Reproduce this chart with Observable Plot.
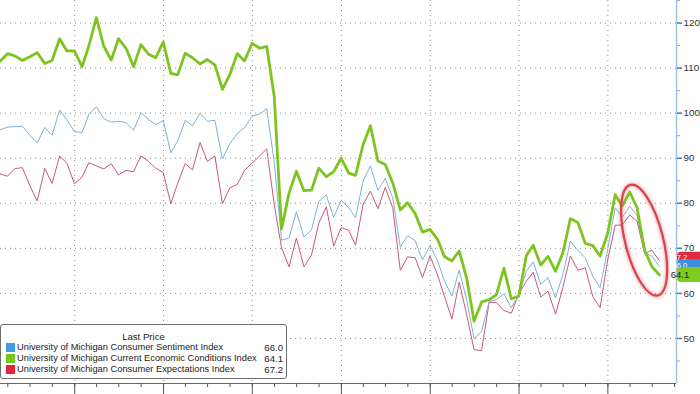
<!DOCTYPE html>
<html><head><meta charset="utf-8">
<script src="https://cdn.jsdelivr.net/npm/d3@7"></script>
<script src="https://cdn.jsdelivr.net/npm/@observablehq/plot@0.6"></script>
<style>
html,body{margin:0;padding:0;background:#fff;}
#wrap{position:relative;width:700px;height:394px;overflow:hidden;}
#legend{position:absolute;left:0;top:324px;width:287px;height:55px;box-sizing:border-box;border:1px solid #6e6e6e;border-radius:3px;background:#fff;font-family:"Liberation Sans",Arial,sans-serif;font-size:9.3px;color:#222;padding-top:5.5px;}
#legend .title{height:11px;line-height:11px;text-align:center;font-size:9.6px;}
#legend .row{height:11px;line-height:11px;display:flex;align-items:center;white-space:nowrap;padding-left:5px;padding-right:3px;}
#legend .sw{width:9px;height:9px;margin-right:2px;flex:none;}
#legend .nm{flex:1;}
#legend .val{margin-left:4px;font-size:9.6px;}
</style></head>
<body>
<div id="wrap"></div>
<script>
// ---- data (monthly, Jan 2017 – Jul 2024) ----
const startYear = 2017;
const sentiment = [
98.5,96.3,96.9,97.0,97.1,95.1,93.4,96.8,95.1,100.7,98.5,95.9,
95.7,99.7,101.4,98.8,98.0,98.2,97.9,96.2,100.1,98.6,97.5,98.3,
91.2,93.8,98.4,97.2,100.0,98.2,98.4,89.8,93.2,95.5,96.8,99.3,
99.8,101.0,89.1,71.8,72.3,78.1,72.5,74.1,80.4,81.8,76.9,80.7,
79.0,76.8,84.9,88.3,82.9,85.5,81.2,70.3,72.8,71.7,67.4,70.6,
67.2,62.8,59.4,65.2,58.4,50.0,51.5,58.2,58.6,59.9,56.8,59.7,
64.9,67.0,62.0,63.5,59.0,64.2,71.6,69.5,67.9,63.8,61.3,69.7,
79.0,76.9,79.4,77.2,69.1,68.2,66.0];
const current = [
111.3,111.5,113.2,112.7,111.7,112.5,113.4,111.0,111.7,116.5,113.8,113.8,
110.3,114.9,121.2,114.9,111.8,116.5,114.4,110.3,115.2,113.1,112.3,115.8,
108.8,108.5,113.3,112.3,110.9,111.9,110.7,105.3,108.5,113.2,111.6,115.5,
114.4,114.8,103.7,74.3,82.3,87.1,82.8,82.9,87.8,85.9,87.0,90.0,
86.7,86.2,93.0,97.2,89.4,88.6,84.5,78.5,80.1,77.7,73.6,74.2,
72.0,68.2,67.2,69.4,63.3,53.8,58.1,58.6,59.7,65.6,58.8,59.4,
68.4,70.7,66.3,68.2,64.9,69.0,76.6,75.7,71.1,70.6,68.3,73.3,
81.9,79.4,82.5,79.0,69.6,65.9,64.1];
const expectations = [
90.1,86.5,86.0,87.7,87.9,84.0,80.5,87.7,84.4,90.5,88.9,84.3,
85.8,89.0,88.3,87.6,88.8,86.3,87.3,87.0,90.5,89.3,87.8,86.8,
79.9,84.4,88.8,87.4,93.5,89.3,90.5,79.9,83.4,84.2,87.3,88.9,
90.5,92.1,79.7,70.1,65.9,72.3,65.9,68.5,75.6,79.2,70.5,74.6,
74.0,70.7,79.7,82.7,78.8,83.5,79.0,65.1,68.1,67.9,63.5,68.3,
64.1,59.4,54.3,62.5,55.2,47.5,47.3,58.0,58.0,56.2,55.6,59.9,
62.7,64.7,59.2,60.5,55.4,61.3,68.3,65.1,65.7,59.3,56.8,67.4,
75.1,75.2,77.4,76.0,68.8,69.6,67.2];
const seriesNames = [
  "University of Michigan Consumer Sentiment Index",
  "University of Michigan Current Economic Conditions Index",
  "University of Michigan Consumer Expectations Index"];
const lastPrice = [66.0, 64.1, 67.2];
const yTicks = [50,60,70,80,90,100,110,120];
const yMinor = [45,55,65,75,85,95,105,115,125];
const annotationMonth = "2024-05";
const annotationValue = 71.7;

// ---- styles ----
const lineColors = ["#7fb0d6", "#7dc421", "#c9587a"];
const swatchColors = ["#3f9be6", "#72c81c", "#e3223d"];
const badgeColors = ["#3f8fe0", "#7ccb1e", "#e02a40"];
const badgeText = ["#fff", "#222", "#fff"];

const dates = sentiment.map((_, i) => new Date(Date.UTC(startYear, i + 1, 0)));
const rows = dates.map((d, i) => ({date: d, s: sentiment[i], c: current[i], e: expectations[i]}));

const x0 = new Date(Date.UTC(2017, 2, 2));
const x1 = new Date(Date.UTC(2024, 9, 9));
const years = d3.utcYear.range(x0, x1);
const quarters = d3.utcMonth.every(3).range(x0, x1);

const dotted = {stroke: "#8a8a8a", strokeWidth: 1, strokeDasharray: "1,4"};
const fontFamily = "'Liberation Sans', Arial, sans-serif";

const plot = Plot.plot({
  width: 700, height: 394,
  marginLeft: 0, marginRight: 24, marginTop: 0, marginBottom: 11,
  style: {fontFamily, background: "#fff"},
  x: {type: "utc", domain: [x0, x1], axis: null},
  y: {domain: [40, 125], axis: null},
  marks: [
    Plot.ruleY(yTicks, dotted),
    Plot.ruleX(years, dotted),
    Plot.ruleX([x1], {stroke: "#a9c3d8", strokeWidth: 1.5}),
    Plot.ruleY([40], {stroke: "#6a6a6a", strokeWidth: 1}),
    Plot.axisX(quarters, {anchor: "bottom", tickSize: 4, tickFormat: () => "", stroke: "#555", label: null}),
    Plot.axisX(years, {anchor: "bottom", tickSize: 11, tickFormat: () => "", stroke: "#555", label: null}),
    Plot.axisY(yMinor, {anchor: "right", tickSize: 3, tickFormat: () => "", stroke: "#9aaab8", label: null}),
    Plot.axisY(yTicks, {anchor: "right", tickSize: 5, tickPadding: 2, stroke: "#3d86c8", strokeWidth: 1.6, fill: "#333", fontSize: 9.8, label: null}),
    Plot.line(rows, {x: "date", y: "e", stroke: lineColors[2], strokeWidth: 1}),
    Plot.line(rows, {x: "date", y: "s", stroke: lineColors[0], strokeWidth: 1}),
    Plot.line(rows, {x: "date", y: "c", stroke: lineColors[1], strokeWidth: 2.8})
  ]
});

document.getElementById("wrap").appendChild(plot);

const xs = plot.scale("x"), ys = plot.scale("y");
const svg = d3.select(plot);

// annotation ellipse
const [ay, am] = annotationMonth.split("-").map(Number);
const cx = xs.apply(new Date(Date.UTC(ay, am, 0)));
const cy = ys.apply(annotationValue);
const defs = svg.append("defs");
defs.append("filter").attr("id", "glow").attr("x", "-50%").attr("y", "-50%").attr("width", "200%").attr("height", "200%")
  .append("feGaussianBlur").attr("stdDeviation", 1.6);
const eg = svg.append("g").attr("transform", `translate(${cx},${cy}) rotate(-14)`);
eg.append("ellipse").attr("rx", 19).attr("ry", 57).attr("fill", "none")
  .attr("stroke", "#e07078").attr("stroke-width", 4.5).attr("opacity", 0.45).attr("filter", "url(#glow)");
eg.append("ellipse").attr("rx", 19).attr("ry", 57).attr("fill", "none")
  .attr("stroke", "#d8434c").attr("stroke-width", 2.2);

// last-value badges: stacked tags (red, blue behind; green on top)
const xr = xs.apply(x1);
const gy = ys.apply(lastPrice[1]);
const badgeY = {2: gy - 17.4, 0: gy - 9.4, 1: gy};
const badgeH = {2: 10.5, 0: 11, 1: 15};
const badgeF = {2: 7.5, 0: 7.5, 1: 9.5};
[2, 0, 1].forEach(k => {
  const yv = badgeY[k];
  const g = svg.append("g");
  g.append("rect").attr("x", xr + 1).attr("y", yv - badgeH[k] / 2).attr("width", 40).attr("height", badgeH[k])
    .attr("rx", 4).attr("fill", badgeColors[k]);
  g.append("text").attr("x", xr + 4).attr("y", yv).attr("dy", "0.35em")
    .attr("fill", badgeText[k]).attr("font-size", badgeF[k]).attr("font-family", fontFamily)
    .text(lastPrice[k].toFixed(1));
});

// legend
const lg = d3.select("#wrap").append("div").attr("id", "legend");
lg.append("div").attr("class", "title").text("Last Price");
seriesNames.forEach((n, i) => {
  const r = lg.append("div").attr("class", "row");
  r.append("div").attr("class", "sw").style("background", swatchColors[i]);
  r.append("span").attr("class", "nm").text(n);
  r.append("span").attr("class", "val").text(lastPrice[i].toFixed(1));
});
</script>
</body></html>
